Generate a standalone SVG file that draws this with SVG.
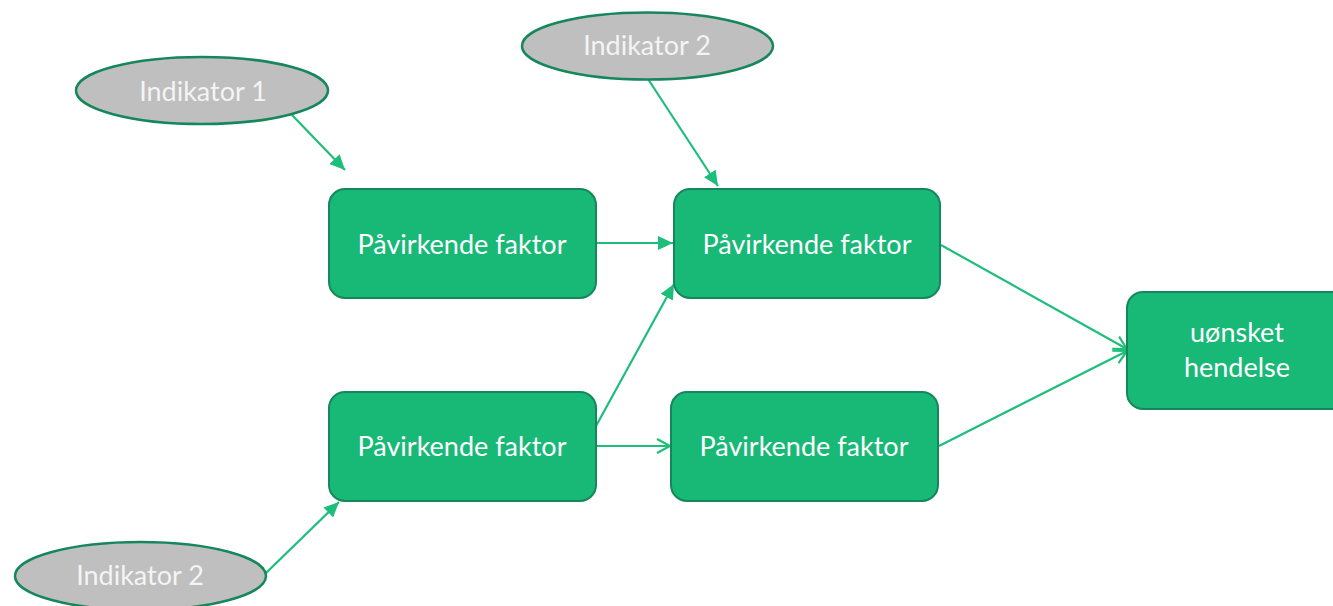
<svg xmlns="http://www.w3.org/2000/svg" width="1333" height="606" viewBox="0 0 1333 606">
  <style>
    .box { fill: #18B877; stroke: #15875A; stroke-width: 2; }
    .ind { fill: #BFBFBF; stroke: #15875A; stroke-width: 2.5; }
    .lbl { font-family: Lato, "Liberation Sans", sans-serif; font-size: 27px; fill: #FFFFFF; text-anchor: middle; }
    .ilbl { font-family: Lato, "Liberation Sans", sans-serif; font-size: 27px; fill: #F4F4F4; text-anchor: middle; }
    .link { stroke: #1DBE7A; stroke-width: 2.2; fill: none; }
  </style>
  <defs>
    <marker id="solid" markerUnits="userSpaceOnUse" markerWidth="16" markerHeight="14" refX="15" refY="7" orient="auto">
      <path d="M0,0 L15,7 L0,14 z" fill="#1DBE7A"/>
    </marker>
    <marker id="open" markerUnits="userSpaceOnUse" markerWidth="18" markerHeight="18" refX="15" refY="9" orient="auto">
      <path d="M2,2 L15,9 L2,16" fill="none" stroke="#1DBE7A" stroke-width="2.2"/>
    </marker>
  </defs>

  <rect width="1333" height="606" fill="#FFFFFF"/>

  <!-- connectors -->
  <g id="connectors">
    <line class="link" x1="292" y1="115" x2="345" y2="170" marker-end="url(#solid)"/>
    <line class="link" x1="648" y1="79" x2="718" y2="186" marker-end="url(#solid)"/>
    <line class="link" x1="597" y1="243" x2="673" y2="243" marker-end="url(#solid)"/>
    <line class="link" x1="596" y1="426" x2="674" y2="284" marker-end="url(#solid)"/>
    <line class="link" x1="266" y1="573" x2="339" y2="502" marker-end="url(#solid)"/>
    <line class="link" x1="596" y1="446" x2="670" y2="446" marker-end="url(#open)"/>
    <line class="link" x1="941" y1="245" x2="1127" y2="349" marker-end="url(#open)"/>
    <line class="link" x1="939" y1="446" x2="1127" y2="351" marker-end="url(#open)"/>
  </g>

  <!-- boxes -->
  <g id="factor-top-left">
    <rect class="box" x="329" y="189" width="267" height="109" rx="16"/>
    <text class="lbl" x="462" y="254">Påvirkende faktor</text>
  </g>
  <g id="factor-top-right">
    <rect class="box" x="674" y="189" width="266" height="109" rx="16"/>
    <text class="lbl" x="807" y="254">Påvirkende faktor</text>
  </g>
  <g id="factor-bottom-left">
    <rect class="box" x="329" y="392" width="267" height="109" rx="16"/>
    <text class="lbl" x="462" y="456">Påvirkende faktor</text>
  </g>
  <g id="factor-bottom-right">
    <rect class="box" x="671" y="392" width="267" height="109" rx="16"/>
    <text class="lbl" x="804" y="456">Påvirkende faktor</text>
  </g>
  <g id="event">
    <rect class="box" x="1127" y="292" width="220" height="117" rx="16"/>
    <text class="lbl" x="1237" y="342">uønsket</text>
    <text class="lbl" x="1237" y="377">hendelse</text>
  </g>

  <!-- indicators -->
  <g id="indicator-1">
    <ellipse class="ind" cx="202" cy="90.5" rx="126" ry="33.5"/>
    <text class="ilbl" x="203" y="101">Indikator 1</text>
  </g>
  <g id="indicator-2-top">
    <ellipse class="ind" cx="647.5" cy="46" rx="125.5" ry="33.5"/>
    <text class="ilbl" x="647" y="55">Indikator 2</text>
  </g>
  <g id="indicator-2-bottom">
    <ellipse class="ind" cx="140.5" cy="576" rx="125.5" ry="34"/>
    <text class="ilbl" x="140" y="585">Indikator 2</text>
  </g>
</svg>
